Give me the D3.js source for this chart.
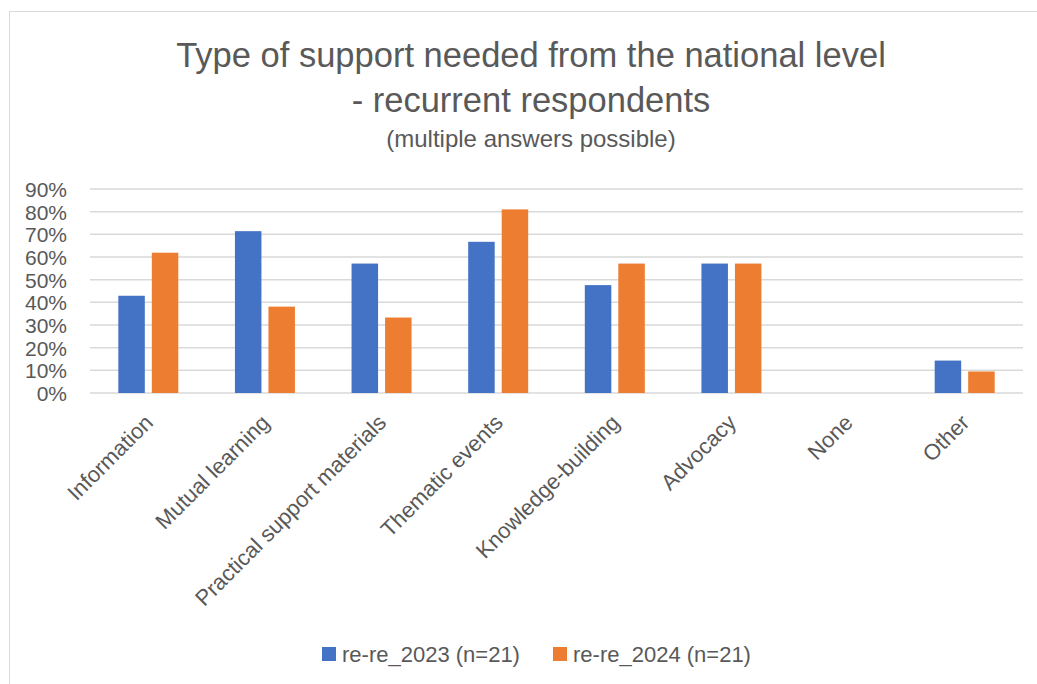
<!DOCTYPE html>
<html>
<head>
<meta charset="utf-8">
<script src="https://cdn.jsdelivr.net/npm/d3@7"></script>
<style>
  html, body { margin: 0; padding: 0; background: #fff; }
  svg { display: block; }
  text { font-family: "Liberation Sans", "Open Sans", sans-serif; fill: #595959; }
</style>
</head>
<body>
<svg id="chart" width="1037" height="684"></svg>
<script>
// Share of recurrent respondents (n=21 each year) naming each type of support
const categories = ["Information", "Mutual learning", "Practical support materials", "Thematic events",
                    "Knowledge-building", "Advocacy", "None", "Other"];
const values2023 = [0.429, 0.714, 0.571, 0.667, 0.476, 0.571, 0, 0.143];
const values2024 = [0.619, 0.381, 0.333, 0.810, 0.571, 0.571, 0, 0.095];
const seriesNames = ["re-re_2023 (n=21)", "re-re_2024 (n=21)"];
const seriesColors = ["#4472C4", "#ED7D31"];
const yTicks = [0, 0.1, 0.2, 0.3, 0.4, 0.5, 0.6, 0.7, 0.8, 0.9];
const titleLines = ["Type of support needed from the national level", "- recurrent respondents"];
const subtitle = "(multiple answers possible)";

const svg = d3.select("#chart");
const W = 1037, H = 684;

// outer chart frame
svg.append("rect").attr("x", 9.5).attr("y", 11.5).attr("width", W + 20).attr("height", H + 20)
  .attr("fill", "#fff").attr("stroke", "#D9D9D9").attr("stroke-width", 1);

const plot = { left: 90, right: 1023, top: 189, bottom: 393 };

const x = d3.scaleBand().domain(categories).range([plot.left, plot.right]).paddingInner(0).paddingOuter(0);
const y = d3.scaleLinear().domain([0, 0.9]).range([plot.bottom, plot.top]);
const barW = 26.5, barGap = 7;

// title
const titleG = svg.append("g");
titleLines.forEach((t, i) => {
  titleG.append("text").attr("x", 531).attr("y", 67 + i * 45).attr("text-anchor", "middle")
    .style("font-size", "34.5px").text(t);
});
titleG.append("text").attr("x", 531).attr("y", 147).attr("text-anchor", "middle")
  .style("font-size", "24px").text(subtitle);

// gridlines
svg.append("g").selectAll("line").data(yTicks).join("line")
  .attr("x1", plot.left).attr("x2", plot.right)
  .attr("y1", d => y(d)).attr("y2", d => y(d))
  .attr("stroke", "#D9D9D9").attr("stroke-width", 1.5);

// y axis labels
const yAxis = d3.axisLeft(y).tickValues(yTicks).tickFormat(d3.format(".0%")).tickSize(0).tickPadding(0);
const yg = svg.append("g").attr("transform", `translate(67,0)`).call(yAxis);
yg.select(".domain").remove();
yg.selectAll("text").style("font-size", "21px").attr("fill", "#595959").attr("dy", "0.36em")
  .style("font-family", "'Liberation Sans', sans-serif");

// bars
const groups = svg.append("g").selectAll("g").data(categories).join("g")
  .attr("transform", d => `translate(${x(d) + x.bandwidth() / 2},0)`);
[values2023, values2024].forEach((vals, s) => {
  groups.append("rect")
    .attr("x", -(barW + barGap / 2) + s * (barW + barGap))
    .attr("width", barW)
    .attr("y", (d, i) => y(vals[i]))
    .attr("height", (d, i) => y(0) - y(vals[i]))
    .attr("fill", seriesColors[s]);
});

// x axis category labels, rotated
const xAxis = d3.axisBottom(x).tickSize(0).tickPadding(0);
const xg = svg.append("g").attr("transform", `translate(0,${plot.bottom})`).call(xAxis);
xg.select(".domain").remove();
xg.selectAll("text")
  .style("font-size", "22px").attr("fill", "#595959")
  .style("font-family", "'Liberation Sans', sans-serif")
  .attr("text-anchor", "end")
  .attr("y", null).attr("dy", "0")
  .attr("transform", "translate(6,31) rotate(-45)");

// legend
const legend = svg.append("g");
const legendX = [322, 553];
seriesNames.forEach((name, i) => {
  legend.append("rect").attr("x", legendX[i]).attr("y", 647).attr("width", 14).attr("height", 14)
    .attr("fill", seriesColors[i]);
  legend.append("text").attr("x", legendX[i] + 20).attr("y", 662).style("font-size", "22px").text(name);
});
</script>
</body>
</html>
